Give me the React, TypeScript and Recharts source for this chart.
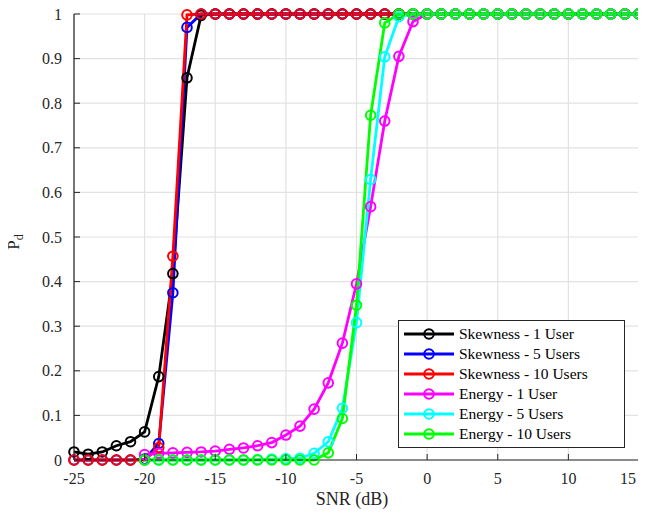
import React from "react";
import {
  LineChart,
  Line,
  XAxis,
  YAxis,
  CartesianGrid,
} from "recharts";

// SNR values (dB)
const snr = [
  -25, -24, -23, -22, -21, -20, -19, -18, -17, -16, -15, -14, -13, -12, -11,
  -10, -9, -8, -7, -6, -5, -4, -3, -2, -1, 0, 1, 2, 3, 4, 5, 6, 7, 8, 9, 10,
  11, 12, 13, 14, 15,
];

// Skewness detectors: -25 .. 15
const skew1 = [
  0.018, 0.013, 0.018, 0.032, 0.041, 0.063, 0.187, 0.418, 0.857, 0.997, 1, 1,
  1, 1, 1, 1, 1, 1, 1, 1, 1, 1, 1, 1, 1, 1, 1, 1, 1, 1, 1, 1, 1, 1, 1, 1, 1, 1,
  1, 1, 1,
];
const skew5 = [
  0, 0, 0, 0, 0, 0.002, 0.037, 0.375, 0.97, 1, 1, 1, 1, 1, 1, 1, 1, 1, 1, 1, 1,
  1, 1, 1, 1, 1, 1, 1, 1, 1, 1, 1, 1, 1, 1, 1, 1, 1, 1, 1, 1,
];
const skew10 = [
  0, 0, 0, 0, 0, 0, 0.028, 0.457, 0.998, 1, 1, 1, 1, 1, 1, 1, 1, 1, 1, 1, 1, 1,
  1, 1, 1, 1, 1, 1, 1, 1, 1, 1, 1, 1, 1, 1, 1, 1, 1, 1, 1,
];

// Energy detectors: -20 .. 15
const energy1 = [
  0.012, 0.015, 0.016, 0.017, 0.018, 0.02, 0.024, 0.027, 0.032, 0.039, 0.056,
  0.076, 0.114, 0.173, 0.262, 0.395, 0.568, 0.76, 0.905, 0.983, 1, 1, 1, 1, 1,
  1, 1, 1, 1, 1, 1, 1, 1, 1, 1, 1,
];
const energy5 = [
  0, 0, 0, 0, 0, 0, 0, 0, 0.001, 0.002, 0.003, 0.004, 0.015, 0.041, 0.116,
  0.308, 0.629, 0.904, 0.994, 1, 1, 1, 1, 1, 1, 1, 1, 1, 1, 1, 1, 1, 1, 1, 1, 1,
];
const energy10 = [
  0, 0, 0, 0, 0, 0, 0, 0, 0, 0, 0, 0, 0, 0.016, 0.093, 0.347, 0.773, 0.98, 1,
  1, 1, 1, 1, 1, 1, 1, 1, 1, 1, 1, 1, 1, 1, 1, 1, 1,
];

const xTicks = [-25, -20, -15, -10, -5, 0, 5, 10, 15];
const yTicks = [0, 0.1, 0.2, 0.3, 0.4, 0.5, 0.6, 0.7, 0.8, 0.9, 1];

const series = [
  { key: "skew1", name: "Skewness - 1 User", color: "#000000", values: skew1, start: -25 },
  { key: "skew5", name: "Skewness - 5 Users", color: "#0000ff", values: skew5, start: -25 },
  { key: "skew10", name: "Skewness - 10 Users", color: "#ff0000", values: skew10, start: -25 },
  { key: "energy1", name: "Energy - 1 User", color: "#ff00ff", values: energy1, start: -20 },
  { key: "energy5", name: "Energy - 5 Users", color: "#00ffff", values: energy5, start: -20 },
  { key: "energy10", name: "Energy - 10 Users", color: "#00ff00", values: energy10, start: -20 },
];

const data = snr.map((x) => {
  const row: any = { snr: x };
  series.forEach((s) => {
    const idx = snr.indexOf(x) - snr.indexOf(s.start);
    row[s.key] = idx >= 0 ? s.values[idx] : null;
  });
  return row;
});

const FONT = "'Liberation Serif', 'DejaVu Serif', serif";
const AXIS = "#262626";

const BottomTick = (props: any) => {
  const { x, y, payload } = props;
  // the last label gets clipped at the right edge, so pull it in
  const last = payload.value === 15;
  return (
    <g>
      <line x1={x} x2={x} y1={y} y2={y - 6} stroke={AXIS} />
      <text
        x={last ? x - 3 : x}
        y={y + 24}
        textAnchor={last ? "end" : "middle"}
        fontFamily={FONT}
        fontSize={16}
        fill={AXIS}
      >
        {payload.value}
      </text>
    </g>
  );
};

const TopTick = (props: any) => {
  const { x, y } = props;
  return <line x1={x} x2={x} y1={y} y2={y + 6} stroke={AXIS} />;
};

const LeftTick = (props: any) => {
  const { x, y, payload } = props;
  return (
    <g>
      <line x1={x} x2={x + 6} y1={y} y2={y} stroke={AXIS} />
      <text x={x - 12} y={y + 5.5} textAnchor="end" fontFamily={FONT} fontSize={16} fill={AXIS}>
        {String(payload.value)}
      </text>
    </g>
  );
};

const RightTick = (props: any) => {
  const { x, y } = props;
  return <line x1={x} x2={x - 6} y1={y} y2={y} stroke={AXIS} />;
};

const LegendBox = () => (
  <div
    style={{
      position: "absolute",
      left: 398,
      top: 320,
      border: "1.5px solid #262626",
      background: "#fff",
      padding: "3px 6px 3px 4px",
      fontFamily: FONT,
      fontSize: 15.5,
      lineHeight: "20px",
      color: "#000",
      width: 215,
      boxSizing: "content-box",
    }}
  >
    {series.map((s) => (
      <div key={s.key} style={{ display: "flex", alignItems: "center", height: 20, whiteSpace: "nowrap" }}>
        <svg width={52} height={14} style={{ marginRight: 4, flex: "none" }}>
          <line x1={1} x2={51} y1={7} y2={7} stroke={s.color} strokeWidth={2.8} />
          <circle cx={26} cy={7} r={4.8} stroke={s.color} strokeWidth={2} fill="none" />
        </svg>
        <span>{s.name}</span>
      </div>
    ))}
  </div>
);

export default function App() {
  return (
    <div style={{ position: "relative", width: 646, height: 515, margin: "-8px 0 0 -8px" }}>
      <LineChart
        width={646}
        height={515}
        data={data}
        margin={{ top: 14, right: 7, left: 0, bottom: 15 }}
      >
        <CartesianGrid stroke="#e2e2e2" strokeWidth={1.2} />
        <XAxis
          dataKey="snr"
          type="number"
          domain={[-25, 15]}
          ticks={xTicks}
          interval={0}
          height={40}
          tickSize={0}
          tickMargin={0}
          tickLine={false}
          tick={<BottomTick />}
          axisLine={{ stroke: AXIS, strokeWidth: 1.2 }}
        />
        <XAxis
          xAxisId="top"
          orientation="top"
          dataKey="snr"
          type="number"
          domain={[-25, 15]}
          ticks={xTicks}
          interval={0}
          height={0}
          tickSize={0}
          tickMargin={0}
          tickLine={false}
          tick={<TopTick />}
          axisLine={{ stroke: AXIS, strokeWidth: 1.2 }}
        />
        <YAxis
          type="number"
          domain={[0, 1]}
          ticks={yTicks}
          interval={0}
          width={74}
          tickSize={0}
          tickMargin={0}
          tickLine={false}
          tick={<LeftTick />}
          axisLine={{ stroke: AXIS, strokeWidth: 1.2 }}
        />
        <YAxis
          yAxisId="right"
          orientation="right"
          type="number"
          domain={[0, 1]}
          ticks={yTicks}
          interval={0}
          width={0}
          tickSize={0}
          tickMargin={0}
          tickLine={false}
          tick={<RightTick />}
          axisLine={{ stroke: AXIS, strokeWidth: 1.2 }}
        />
        {series.map((s) => (
          <Line
            key={s.key}
            dataKey={s.key}
            name={s.name}
            stroke={s.color}
            strokeWidth={2.8}
            dot={{ r: 4.8, strokeWidth: 2, fill: "none", stroke: s.color }}
            connectNulls={false}
            isAnimationActive={false}
          />
        ))}
      </LineChart>
      <LegendBox />
      <svg
        width={646}
        height={515}
        style={{ position: "absolute", left: 0, top: 0, pointerEvents: "none" }}
      >
        <text x={352} y={505} textAnchor="middle" fontFamily={FONT} fontSize={18} fill={AXIS}>
          SNR (dB)
        </text>
        <text
          transform="translate(19,242) rotate(-90)"
          textAnchor="middle"
          fontFamily={FONT}
          fontSize={17}
          fill={AXIS}
        >
          P<tspan fontSize={12} dy={4}>d</tspan>
        </text>
      </svg>
    </div>
  );
}
